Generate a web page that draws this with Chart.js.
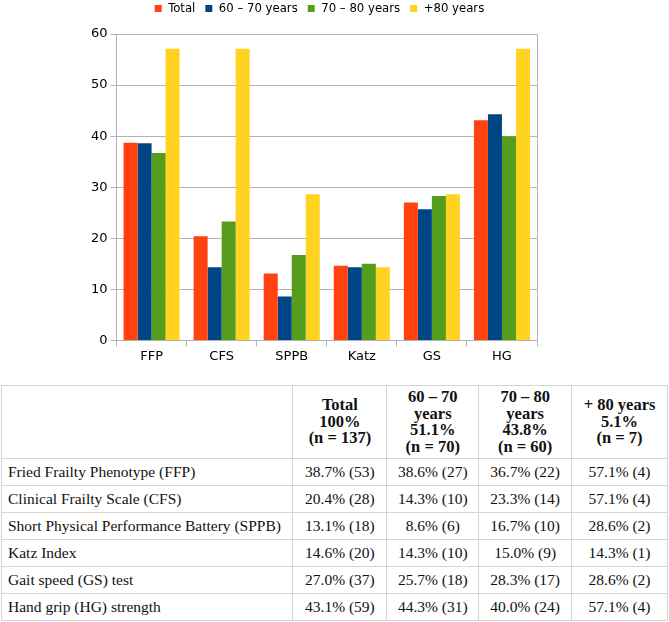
<!DOCTYPE html>
<html>
<head>
<meta charset="utf-8">
<script src="https://cdn.jsdelivr.net/npm/chart.js@4.4.1/dist/chart.umd.min.js"></script>
<style>
  html, body { margin: 0; padding: 0; background: #fff; width: 669px; height: 622px; overflow: hidden; }
  #chartBox { position: absolute; left: 0; top: 0; width: 669px; height: 374px; }
  table { position: absolute; left: 1px; top: 385px; width: 667px; border-collapse: collapse;
          font-family: "Liberation Serif", "Times New Roman", serif; font-size: 15.5px; color: #111; }
  td, th { border: 1px solid #d4d4d4; padding: 0; }
  th { font-weight: bold; text-align: center; font-size: 16.5px; line-height: 16.5px; height: 72px; }
  td { height: 26px; text-align: center; }
  td.lab { text-align: left; padding-left: 6px; }
</style>
</head>
<body>
<div id="chartBox"><canvas id="c"></canvas></div>
<table id="tbl"></table>
<script>
// ---- data ----
const categories = ["FFP", "CFS", "SPPB", "Katz", "GS", "HG"];
const seriesNames = ["Total", "60 – 70 years", "70 – 80 years", "+80 years"];
const totalPct = [38.7, 20.4, 13.1, 14.6, 27.0, 43.1];
const age6070Pct = [38.6, 14.3, 8.6, 14.3, 25.7, 44.3];
const age7080Pct = [36.7, 23.3, 16.7, 15.0, 28.3, 40.0];
const age80Pct = [57.1, 57.1, 28.6, 14.3, 28.6, 57.1];
const yTicks = [0, 10, 20, 30, 40, 50, 60];

const rowLabels = ["Fried Frailty Phenotype (FFP)", "Clinical Frailty Scale (CFS)",
  "Short Physical Performance Battery (SPPB)", "Katz Index", "Gait speed (GS) test", "Hand grip (HG) strength"];
const headerLines = [
  ["Total", "100%", "(n = 137)"],
  ["60 – 70", "years", "51.1%", "(n = 70)"],
  ["70 – 80", "years", "43.8%", "(n = 60)"],
  ["+ 80 years", "5.1%", "(n = 7)"]
];
const totalN = [53, 28, 18, 20, 37, 59];
const age6070N = [27, 10, 6, 10, 18, 31];
const age7080N = [22, 14, 10, 9, 17, 24];
const age80N = [4, 4, 2, 1, 2, 4];

const colors = ["#ff420e", "#004586", "#579d1c", "#ffd320"];

// ---- table ----
const pcts = [totalPct, age6070Pct, age7080Pct, age80Pct];
const ns = [totalN, age6070N, age7080N, age80N];
const colW = [292, 94, 92, 93, 96];
let html = "<colgroup>" + colW.map(w => `<col style="width:${w}px">`).join("") + "</colgroup>";
html += "<tr><th></th>" + headerLines.map(l => "<th>" + l.join("<br>") + "</th>").join("") + "</tr>";
rowLabels.forEach((lab, i) => {
  html += `<tr><td class="lab">${lab}</td>` +
    pcts.map((p, k) => `<td>${p[i].toFixed(1)}% (${ns[k][i]})</td>`).join("") + "</tr>";
});
document.getElementById("tbl").innerHTML = html;

// ---- chart ----
const rightBorder = {
  id: "rightBorder",
  afterDraw(chart) {
    const { ctx, chartArea } = chart;
    ctx.save();
    ctx.strokeStyle = "#b3b3b3";
    ctx.lineWidth = 1;
    ctx.beginPath();
    ctx.moveTo(Math.round(chartArea.right) + 0.5, chartArea.top);
    ctx.lineTo(Math.round(chartArea.right) + 0.5, chartArea.bottom);
    ctx.stroke();
    ctx.restore();
  }
};
const legendTweak = {
  id: "legendTweak",
  afterInit(chart) {
    const lg = chart.legend;
    const origFit = lg.fit.bind(lg);
    lg.fit = function () { origFit(); this.height = 42; };
  },
  afterLayout(chart) {
    const lg = chart.legend;
    lg.left += 7; lg.right += 7;
  }
};

new Chart(document.getElementById("c"), {
  type: "bar",
  data: {
    labels: categories,
    datasets: [totalPct, age6070Pct, age7080Pct, age80Pct].map((d, i) => ({
      label: seriesNames[i], data: d, backgroundColor: colors[i], borderWidth: 0,
      categoryPercentage: 0.8, barPercentage: 1.0
    }))
  },
  options: {
    responsive: true, maintainAspectRatio: false, animation: false,
    layout: { padding: { left: 88, right: 132, top: -8, bottom: 8 } },
    plugins: {
      tooltip: { enabled: false },
      legend: {
        position: "top",
        labels: { boxWidth: 7, boxHeight: 7, padding: 10, color: "#000",
          font: { family: "DejaVu Sans Condensed", size: 13 } }
      }
    },
    scales: {
      x: {
        grid: { offset: true, drawOnChartArea: false, color: "#b3b3b3", tickLength: 6 },
        border: { color: "#b3b3b3" },
        ticks: { color: "#000", font: { family: "DejaVu Sans", size: 13 }, padding: 2 }
      },
      y: {
        min: 0, max: 60,
        afterBuildTicks(axis) { axis.ticks = yTicks.map(v => ({ value: v })); },
        grid: { color: "#b3b3b3", tickLength: 6 },
        border: { color: "#b3b3b3" },
        ticks: { color: "#000", font: { family: "DejaVu Sans", size: 13 }, padding: 3 }
      }
    }
  },
  plugins: [rightBorder, legendTweak]
});
</script>
</body>
</html>
